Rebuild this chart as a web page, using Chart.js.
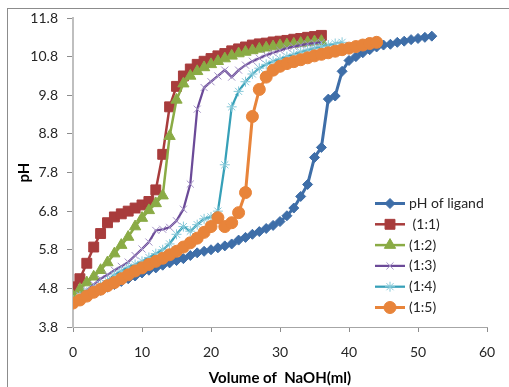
<!DOCTYPE html>
<html>
<head>
<meta charset="utf-8">
<script src="https://cdn.jsdelivr.net/npm/chart.js@4.4.0/dist/chart.umd.min.js"></script>
<style>
  html, body { margin: 0; padding: 0; background: #fff; }
  #wrap { width: 509px; height: 387px; }
</style>
</head>
<body>
<div id="wrap"><canvas id="chart" width="509" height="387"></canvas></div>
<script>
// volume of NaOH added (ml), one reading per ml
const volumeMl = [
  0, 1, 2, 3, 4, 5, 6, 7, 8, 9, 10, 11, 12, 13, 14, 15, 16, 17, 18, 19, 20,
  21, 22, 23, 24, 25, 26, 27, 28, 29, 30, 31, 32, 33, 34, 35, 36, 37, 38, 39,
  40, 41, 42, 43, 44, 45, 46, 47, 48, 49, 50, 51, 52
]

const seriesNames = ['pH of ligand', ' (1:1)', '(1:2)', '(1:3)', '(1:4)', '(1:5)']

const phLigand = [
  4.45, 4.52, 4.6, 4.68, 4.75, 4.83, 4.9, 4.98, 5.05, 5.12, 5.2, 5.27, 5.33,
  5.4, 5.46, 5.52, 5.57, 5.65, 5.72, 5.76, 5.8, 5.85, 5.9, 5.95, 6.05, 6.12,
  6.2, 6.27, 6.35, 6.43, 6.53, 6.68, 6.88, 7.18, 7.49, 8.19, 8.45, 9.7, 9.78,
  10.42, 10.7, 10.8, 10.9, 10.98, 11.05, 11.1, 11.12, 11.17, 11.2, 11.24,
  11.27, 11.3, 11.33
]
const ph11 = [
  4.84, 5.05, 5.45, 5.87, 6.22, 6.5, 6.65, 6.73, 6.8, 6.88, 6.96, 7.05, 7.35,
  8.27, 9.5, 10.03, 10.3, 10.48, 10.6, 10.68, 10.75, 10.82, 10.88, 10.95, 11.0,
  11.05, 11.1, 11.13, 11.15, 11.18, 11.2, 11.22, 11.25, 11.27, 11.3, 11.32, 11.35
]
const ph12 = [
  4.6, 4.78, 4.95, 5.1, 5.27, 5.47, 5.7, 5.92, 6.13, 6.4, 6.62, 6.82, 7.0, 7.2,
  8.74, 9.68, 10.1, 10.3, 10.42, 10.52, 10.6, 10.68, 10.75, 10.82, 10.88,
  10.92, 10.96, 11.0, 11.03, 11.06, 11.09, 11.11, 11.13, 11.15, 11.17, 11.19, 11.2
]
const ph13 = [
  4.5, 4.62, 4.75, 4.9, 5.05, 5.15, 5.27, 5.37, 5.48, 5.65, 5.82, 6.0, 6.3,
  6.33, 6.38, 6.55, 6.85, 7.5, 9.44, 10.0, 10.15, 10.3, 10.45, 10.27, 10.45,
  10.58, 10.68, 10.76, 10.84, 10.9, 10.96, 11.02, 11.06, 11.1, 11.13, 11.15, 11.17
]
const ph14 = [
  4.5, 4.6, 4.7, 4.8, 4.9, 5.0, 5.15, 5.25, 5.35, 5.42, 5.5, 5.6, 5.7, 5.8,
  5.95, 6.2, 6.4, 6.28, 6.45, 6.6, 6.65, 6.8, 8.0, 9.5, 9.9, 10.15, 10.35,
  10.5, 10.6, 10.68, 10.74, 10.8, 10.86, 10.92, 10.97, 11.02, 11.06, 11.1,
  11.14, 11.17
]
const ph15 = [
  4.42, 4.5, 4.6, 4.7, 4.78, 4.87, 4.95, 5.05, 5.15, 5.25, 5.33, 5.42, 5.5,
  5.58, 5.67, 5.76, 5.87, 5.98, 6.1, 6.25, 6.4, 6.63, 6.4, 6.5, 6.76, 7.28,
  9.25, 9.95, 10.27, 10.45, 10.55, 10.62, 10.67, 10.72, 10.77, 10.82, 10.86,
  10.9, 10.94, 10.98, 11.02, 11.06, 11.1, 11.14, 11.17
]

const xTicks = [0, 10, 20, 30, 40, 50, 60]
const yTicks = [3.8, 4.8, 5.8, 6.8, 7.8, 8.8, 9.8, 10.8, 11.8]

const toPoints = values => values.map((v, i) => ({ x: volumeMl[i], y: v }))

const styles = [
  { color: '#3e6ea8', marker: 'rectRot', radius: 5, width: 3, markerColor: '#3e6ea8', markerBorder: 1 },
  { color: '#a83c3c', marker: 'rect', radius: 7, width: 2.5, markerColor: '#a83c3c', markerBorder: 1 },
  { color: '#8aab45', marker: 'triangle', radius: 6.5, width: 2.5, markerColor: '#8aab45', markerBorder: 1 },
  { color: '#6b4a98', marker: 'crossRot', radius: 5, width: 2.25, markerColor: '#a493c6', markerBorder: 1 },
  { color: '#36a0b8', marker: 'star', radius: 5, width: 2.25, markerColor: '#86c9d9', markerBorder: 1 },
  { color: '#e8843a', marker: 'circle', radius: 6, width: 3, markerColor: '#e8843a', markerBorder: 1 },
]

const allSeries = [phLigand, ph11, ph12, ph13, ph14, ph15]

const datasets = allSeries.map((values, i) => ({
  label: seriesNames[i],
  data: toPoints(values),
  showLine: true,
  borderColor: styles[i].color,
  borderWidth: styles[i].width,
  backgroundColor: styles[i].markerColor,
  pointStyle: styles[i].marker,
  pointRadius: styles[i].radius,
  pointBorderColor: styles[i].markerColor,
  pointBackgroundColor: styles[i].markerColor,
  pointBorderWidth: styles[i].markerBorder,
  tension: 0,
  order: allSeries.length - i,
}))

const FONT = 'Lato, "Liberation Sans", sans-serif'

// frame of the chart object
const framePlugin = {
  id: 'frame',
  beforeDraw(chart) {
    const { ctx } = chart
    ctx.save()
    ctx.fillStyle = '#fff'
    ctx.fillRect(0, 0, chart.width, chart.height)
    ctx.strokeStyle = '#8c8c8c'
    ctx.lineWidth = 1
    ctx.strokeRect(7.5, 8.5, 700, 500)
    ctx.restore()
  },
}

// legend sits inside the plot, bottom right
const legendPlugin = {
  id: 'innerLegend',
  afterDatasetsDraw(chart) {
    const { ctx } = chart
    ctx.save()
    chart.data.datasets.forEach((ds, i) => {
      const y = 203.5 + i * 20.8
      ctx.strokeStyle = ds.borderColor
      ctx.lineWidth = ds.borderWidth
      ctx.beginPath()
      ctx.moveTo(375, y)
      ctx.lineTo(405, y)
      ctx.stroke()
      ctx.fillStyle = ds.pointBackgroundColor
      ctx.strokeStyle = ds.pointBorderColor
      ctx.lineWidth = ds.pointBorderWidth
      Chart.helpers.drawPoint(ctx, {
        pointStyle: ds.pointStyle,
        radius: ds.pointRadius,
        borderWidth: ds.pointBorderWidth,
        rotation: 0,
      }, 390, y)
      ctx.fillStyle = '#262626'
      ctx.font = '14px ' + FONT
      ctx.textBaseline = 'middle'
      ctx.textAlign = 'left'
      ctx.fillText(ds.label, 409, y)
    })
    ctx.restore()
  },
}

new Chart(document.getElementById('chart'), {
  type: 'scatter',
  data: { datasets },
  plugins: [framePlugin, legendPlugin],
  options: {
    responsive: false,
    animation: false,
    devicePixelRatio: 1,
    layout: { padding: { left: 0, top: 18, right: 22, bottom: 0 } },
    plugins: {
      legend: { display: false },
      tooltip: { enabled: false },
    },
    scales: {
      x: {
        type: 'linear',
        min: 0,
        max: 60,
        afterBuildTicks: scale => { scale.ticks = xTicks.map(value => ({ value })) },
        afterFit: scale => { scale.height = 60 },
        grid: { drawOnChartArea: false, drawTicks: true, tickLength: 5, color: '#8c8c8c' },
        border: { display: true, color: '#a6a6a6', width: 1 },
        ticks: { padding: 12, color: '#262626', font: { family: FONT, size: 14 } },
        title: {
          display: true,
          text: 'Volume of  NaOH(ml)',
          color: '#000',
          font: { family: FONT, size: 15, weight: 'bold' },
          padding: { top: 0, bottom: 0 },
        },
      },
      y: {
        type: 'linear',
        min: 3.8,
        max: 11.8,
        afterBuildTicks: scale => { scale.ticks = yTicks.map(value => ({ value })) },
        afterFit: scale => { scale.width = 73 },
        grid: { drawOnChartArea: false, drawTicks: true, tickLength: 6, color: '#8c8c8c' },
        border: { display: true, color: '#bfbfbf', width: 2 },
        ticks: {
          padding: 9,
          color: '#262626',
          font: { family: FONT, size: 14 },
          callback: v => v.toFixed(1),
        },
        title: {
          display: true,
          text: 'pH',
          color: '#000',
          font: { family: FONT, size: 15, weight: 'bold' },
          padding: { top: 15, bottom: 0 },
        },
      },
    },
  },
})
</script>
</body>
</html>
